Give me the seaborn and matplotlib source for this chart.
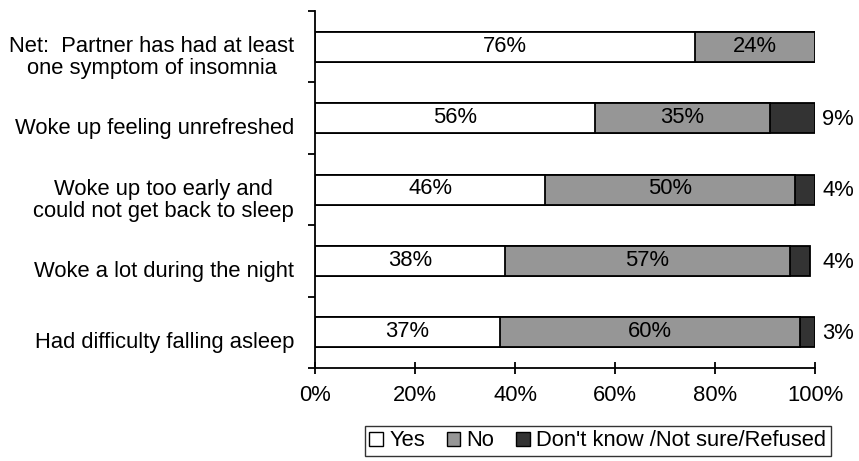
import pandas as pd
import matplotlib
matplotlib.use('Agg')
import matplotlib.pyplot as plt
import matplotlib.transforms as mtransforms
from matplotlib.patches import Patch
import seaborn as sns

# chart data
items = ['Net:  Partner has had at least\none symptom of insomnia',
         'Woke up feeling unrefreshed',
         'Woke up too early and\ncould not get back to sleep',
         'Woke a lot during the night',
         'Had difficulty falling asleep']
yes = [76, 56, 46, 38, 37]
no = [24, 35, 50, 57, 60]
dk = [0, 9, 4, 4, 3]
series = ['Yes', 'No', "Don't know /Not sure/Refused"]
colors = ['#ffffff', '#969696', '#333333']

FS = 15.8

sns.set_theme(style='white')
plt.rcParams['font.family'] = ['Liberation Sans', 'DejaVu Sans']
plt.rcParams['font.size'] = FS
plt.rcParams['text.color'] = 'black'
plt.rcParams['xtick.color'] = 'black'
plt.rcParams['ytick.color'] = 'black'

df = pd.DataFrame({'item': items, 'yes': yes, 'no': no, 'dk': dk})
df['yes_no'] = df['yes'] + df['no']
df['total'] = df['yes_no'] + df['dk']

fig = plt.figure(figsize=(8.59, 4.61), dpi=100)
ax = fig.add_axes([0.3667, 0.2017, 0.5821, 0.7743])

# stacked bars drawn back to front from cumulative totals
for col, c in zip(['total', 'yes_no', 'yes'], colors[::-1]):
    sub = df[df[col] > 0]
    sns.barplot(data=sub, x=col, y='item', order=items, color=c, saturation=1,
                width=0.42, edgecolor='black', linewidth=1.3, orient='h', ax=ax)

for i, row in df.iterrows():
    ax.text(row['yes'] / 2, i - 0.01, f"{row['yes']}%", ha='center', va='center', fontsize=FS)
    ax.text(row['yes'] + row['no'] / 2, i - 0.01, f"{row['no']}%", ha='center', va='center', fontsize=FS)
    if row['dk'] > 0:
        ax.text(101.4, i + 0.02, f"{row['dk']}%", ha='left', va='center', fontsize=FS)

ax.set_xlim(0, 100)
ax.set_ylim(len(items) - 0.5, -0.5)
ax.set_xticks(range(0, 101, 20))
ax.set_xticklabels([f'{v}%' for v in range(0, 101, 20)], fontsize=FS)
ax.set_yticks([i - 0.5 for i in range(len(items) + 1)])
ax.set_yticklabels([''] * (len(items) + 1))
ax.set_yticks(range(len(items)), minor=True)
ax.set_yticklabels(items, minor=True, fontsize=FS, ha='right', multialignment='center',
                   linespacing=1.05)
ax.tick_params(axis='y', which='minor', length=0, pad=15)
ax.tick_params(axis='y', which='major', direction='out', length=5, width=1.3, color='black', left=True)
ax.tick_params(axis='x', direction='inout', length=9, width=1.3, color='black', bottom=True, pad=8)

# category labels sit a little below the bar centres
shift = mtransforms.ScaledTranslation(0, -0.08, fig.dpi_scale_trans)
for lab in ax.get_yticklabels(minor=True):
    lab.set_transform(lab.get_transform() + shift)

ax.set_xlabel('')
ax.set_ylabel('')

for s in ['top', 'right']:
    ax.spines[s].set_visible(False)
for s in ['left', 'bottom']:
    ax.spines[s].set_color('black')
    ax.spines[s].set_linewidth(1.3)

handles = [Patch(facecolor=c, edgecolor='black', linewidth=1.0) for c in colors]
leg = fig.legend(handles, series, loc='center', bbox_to_anchor=(0.696, 0.0434), ncol=3,
                 frameon=True, fancybox=False, edgecolor='black', fontsize=FS,
                 handlelength=0.6, handleheight=0.6, handletextpad=0.3, columnspacing=1.0,
                 borderpad=0.2)
leg.get_frame().set_linewidth(1.0)

fig.savefig('out.png', dpi=100)
